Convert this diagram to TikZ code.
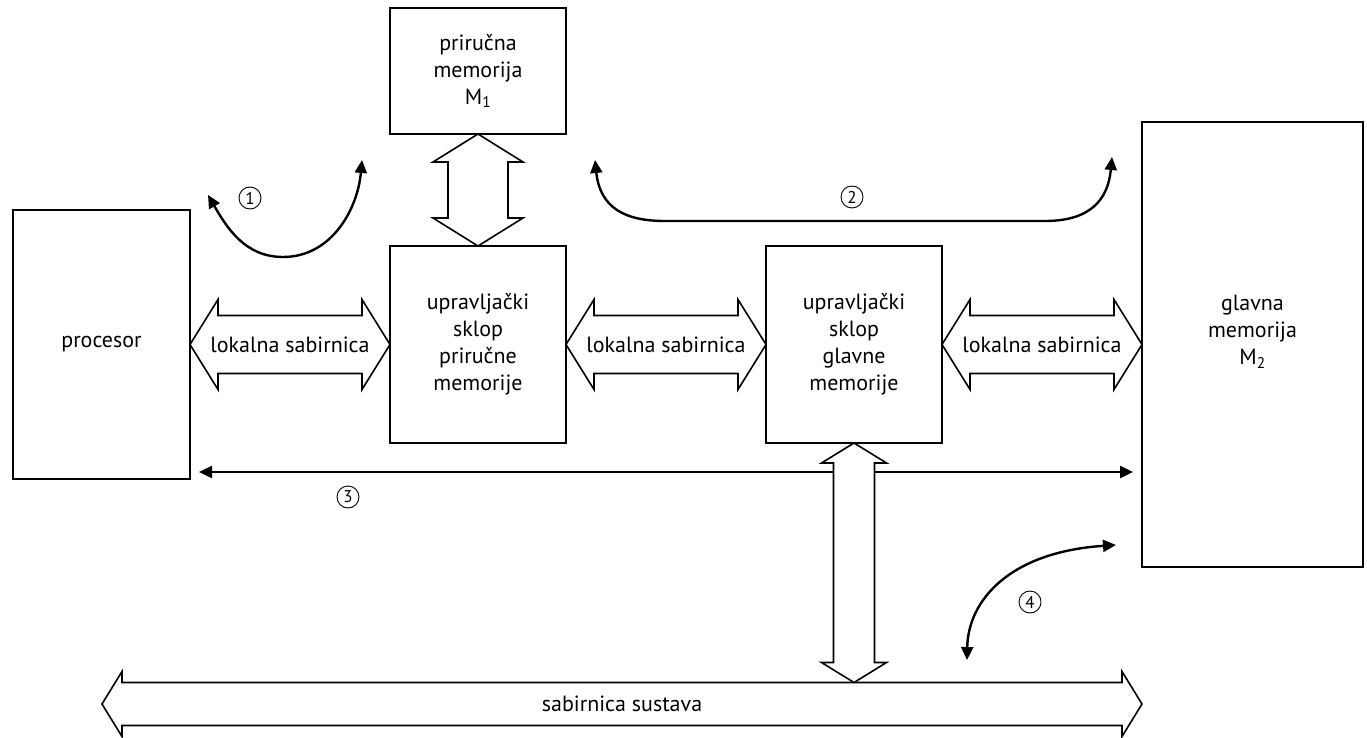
\documentclass[tikz,border=0pt]{standalone}
\usepackage{fontspec}
\setmainfont{PT Sans}
\usetikzlibrary{calc,arrows.meta}
\tikzset{
  box/.style={draw, line width=1.6pt, inner sep=0pt, outer sep=0pt, align=center,
    font=\fontsize{22}{27}\selectfont},
  txt/.style={inner sep=0pt, align=center, font=\fontsize{22}{27}\selectfont},
  bus/.style={draw, line width=1.6pt, line join=miter, fill=white},
  flow/.style={line width=2.4pt,
    {Triangle[length=13pt,width=12pt]}-{Triangle[length=13pt,width=12pt]}},
  num/.style={circle, draw, line width=0.9pt, minimum size=22pt, inner sep=0pt,
    font=\fontsize{17}{17}\selectfont}
}
% horizontal double bus: #1 left tip, #2 right tip, #3 head length,
% #4 head half-height, #5 shaft half-height
\newcommand{\hbus}[5]{%
  \draw[bus] (#1) -- ++(#3,-#4) -- ++(0,#4-#5) -- ($(#2)+(-#3,-#5)$)
    -- ++(0,#5-#4) -- (#2) -- ++(-#3,#4) -- ++(0,#5-#4)
    -- ($(#1)+(#3,#5)$) -- ++(0,#4-#5) -- cycle;}
% vertical double bus: #1 top tip, #2 bottom tip, #3 head length,
% #4 head half-width, #5 shaft half-width
\newcommand{\vbus}[5]{%
  \draw[bus] (#1) -- ++(#4,#3) -- ++(#5-#4,0) -- ($(#2)+(#5,-#3)$)
    -- ++(#4-#5,0) -- (#2) -- ++(-#4,-#3) -- ++(#4-#5,0)
    -- ($(#1)+(-#5,#3)$) -- ++(#5-#4,0) -- cycle;}
\begin{document}
\begin{tikzpicture}[x=1pt,y=-1pt]
\useasboundingbox (0,0) rectangle (1367,738);

% units
\node[box, minimum width=177pt, minimum height=269pt] (proc) at (101.5,344.5) {procesor};
\node[box, minimum width=176pt, minimum height=126pt] (m1) at (478,71)
  {priručna\\memorija\\M\textsubscript{1}};
\node[box, minimum width=176pt, minimum height=197pt] (ctl1) at (478,344.5)
  {upravljački\\sklop\\priručne\\memorije};
\node[box, minimum width=176pt, minimum height=197pt] (ctl2) at (854,344.5)
  {upravljački\\sklop\\glavne\\memorije};
\node[box, minimum width=221pt, minimum height=445pt] (mm2) at (1252.5,344.5) {};
\node[txt] (mm2t) at (1252.5,332) {glavna\\memorija\\M\textsubscript{2}};

% path 3: processor <-> main memory
\draw[flow] ($(proc.east|-0,472)+(9,0)$) -- ($(mm2.west|-0,472)+(-9,0)$);
\node[num] (n3) at (348,497) {3};

% local buses
\hbus{proc.east}{ctl1.west}{28}{45}{29}
\node[txt] (lb1) at ($(proc.east)!0.5!(ctl1.west)$) {lokalna sabirnica};
\hbus{ctl1.east}{ctl2.west}{28}{45}{29}
\node[txt] (lb2) at ($(ctl1.east)!0.5!(ctl2.west)$) {lokalna sabirnica};
\hbus{ctl2.east}{mm2.west}{28}{45}{29}
\node[txt] (lb3) at ($(ctl2.east)!0.5!(mm2.west)$) {lokalna sabirnica};
\vbus{m1.south}{ctl1.north}{28}{45}{30}

% system bus
\coordinate (sysL) at (102,704);
\coordinate (sysR) at (1142,704);
\hbus{sysL}{sysR}{20}{32.5}{21.5}
\node[txt] (sys) at ($(sysL)!0.5!(sysR)$) {sabirnica sustava};
\coordinate (sysTop) at ($(ctl2.south|-sysL)+(0,-21.5)$);
\vbus{ctl2.south}{sysTop}{20}{32.5}{20.5}

% path 1
\draw[flow] (362,160) to[out=-95,in=0] (283,257) to[out=180,in=-60] (208,195);
\node[num] (n1) at (250,198) {1};

% path 2
\draw[flow] (595,160) .. controls (600,208) and (625,221) .. (665,221)
  -- (1045,221) .. controls (1090,221) and (1108,200) .. (1112,157);
\node[num] (n2) at (852,197) {2};

% path 4
\draw[flow] (967,660) .. controls (968,600) and (1010,552) .. (1116,545);
\node[num] (n4) at (1030,602) {4};
\end{tikzpicture}
\end{document}
